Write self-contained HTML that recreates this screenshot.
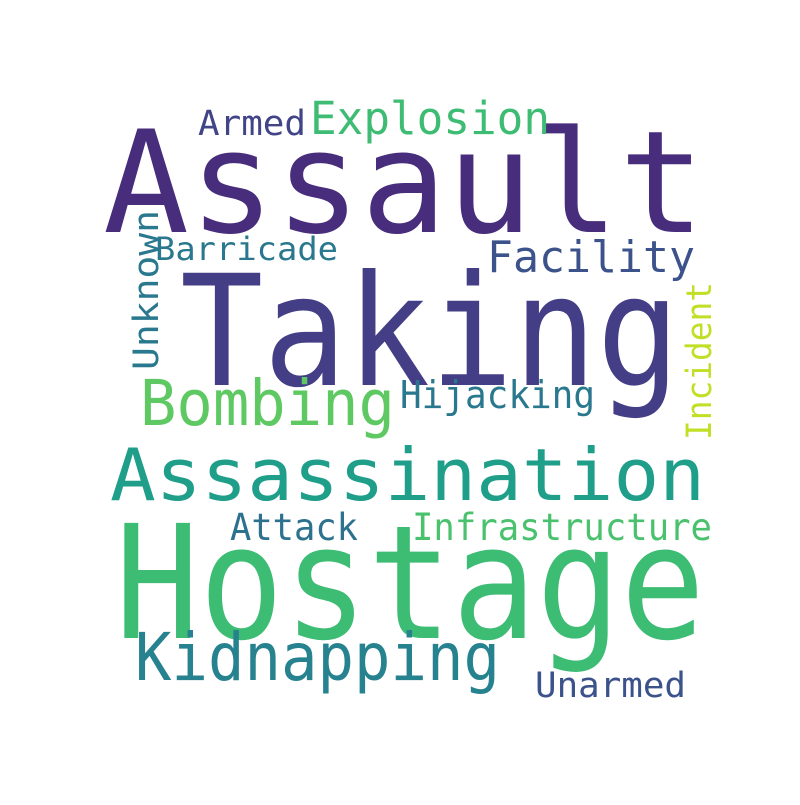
<!DOCTYPE html>
<html><head><meta charset="utf-8"><style>
html,body{margin:0;padding:0;background:#fff}
svg text{font-family:"DejaVu Sans Mono","Liberation Mono",monospace}
</style></head><body>
<svg width="800" height="800" viewBox="0 0 800 800">
<rect width="800" height="800" fill="#fff"/>
<g id="words"></g>
</svg>
<script>
const words=["Assault","Taking","Hostage","Assassination","Kidnapping","Bombing","Explosion","Facility","Hijacking","Infrastructure","Attack","Barricade","Armed","Unarmed","Unknown","Incident"];
const sizes=[142,154,158,72,66,63,45,44,38,37,37,32,35,35,35,35];
const colors=["#472d7b","#433e85","#3dbc74","#1f9e89","#26828e","#5ec962","#3fbc73","#3b528b","#2a788e","#4ac16d","#2c728e","#2a788e","#414487","#3b528b","#2a788e","#c0df25"];
const xs=[103,180,115,110,135,140,310,487,400,412,230,155,198,535,158,711];
const ys=[232,385,638,500,680,425,134,272,408,540,540,260,135,697,370,440];
const widths=[602,500,590,595,365,255,240,208,195,300,128,183,108,151,160,158];
const vertical=[0,0,0,0,0,0,0,0,0,0,0,0,0,0,1,1];
const g=document.getElementById('words');
words.forEach((w,i)=>{
  const t=document.createElementNS('http://www.w3.org/2000/svg','text');
  
  
  t.textContent=w;
  t.setAttribute('font-size',sizes[i]);
  t.setAttribute('fill',colors[i]);
  t.setAttribute('textLength',widths[i]);
  t.setAttribute('lengthAdjust','spacingAndGlyphs');
  if(vertical[i]){
    t.setAttribute('x',0);t.setAttribute('y',0);
    t.setAttribute('transform',`translate(${xs[i]},${ys[i]}) rotate(-90)`);
  } else {t.setAttribute('x',xs[i]);t.setAttribute('y',ys[i]);}
  g.appendChild(t);
});
</script>
</body></html>
